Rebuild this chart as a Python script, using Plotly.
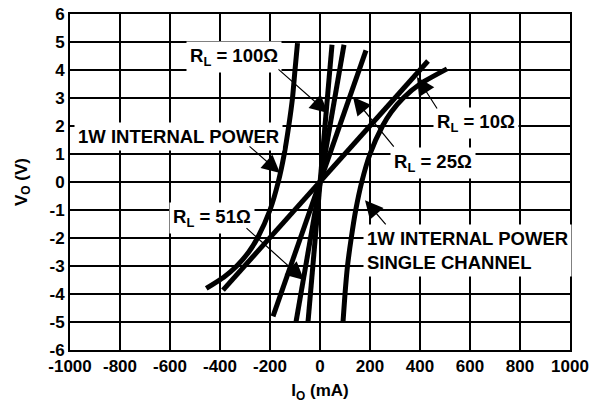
import plotly.graph_objects as go

# 1W internal power curves (Io in mA, Vo in V)
pw_left_io = [-90, -100, -110, -125, -143, -167, -200, -250, -285, -333, -385, -455]
pw_left_vo = [4.96, 4.0, 3.0, 2.0, 1.0, 0.0, -1.0, -2.0, -2.5, -3.0, -3.4, -3.8]
pw_right_io = [92, 100, 110, 125, 143, 167, 200, 250, 285, 333, 400, 508]
pw_right_vo = [-5.0, -4.0, -3.0, -2.0, -1.0, 0.0, 1.0, 2.0, 2.5, 3.0, 3.5, 4.04]

# Load lines
r10_io = [-388, 432]
r10_vo = [-3.86, 4.32]
r25_io = [-188, 184]
r25_vo = [-4.8, 4.7]
r51_io = [-96, 96]
r51_vo = [-5.0, 4.9]
r100_io = [-48, 48]
r100_vo = [-5.0, 4.9]

x_ticks = [-1000, -800, -600, -400, -200, 0, 200, 400, 600, 800, 1000]
y_ticks = [-6, -5, -4, -3, -2, -1, 0, 1, 2, 3, 4, 5, 6]

FONT = "Liberation Sans"
FS = 17
FS_ANN = 18.5
LW = 5

fig = go.Figure()
for xs, ys in [(pw_left_io, pw_left_vo), (pw_right_io, pw_right_vo),
               (r10_io, r10_vo), (r25_io, r25_vo), (r51_io, r51_vo), (r100_io, r100_vo)]:
    fig.add_trace(go.Scatter(x=xs, y=ys, mode="lines",
                             line=dict(color="black", width=LW, shape="spline", smoothing=0.6),
                             showlegend=False, hoverinfo="skip"))

labels = [
    ("R<sub>L</sub> = 100Ω", -344, 4.46, "center"),
    ("1W INTERNAL POWER", -568, 1.64, "center"),
    ("R<sub>L</sub> = 51Ω", -432, -1.29, "center"),
    ("R<sub>L</sub> = 25Ω", 452, 0.68, "center"),
    ("R<sub>L</sub> = 10Ω", 624, 2.1, "center"),
    ("1W INTERNAL POWER<br>SINGLE CHANNEL", 172, -2.46, "left"),
]
for txt, x, y, anc in labels:
    fig.add_annotation(x=x, y=y, xref="x", yref="y", text="<b>" + txt + "</b>",
                       showarrow=False, xanchor=anc, align="left",
                       bgcolor="white", borderpad=3,
                       font=dict(family=FONT, size=FS_ANN, color="black"))

# arrows: (tip x, tip y, tail x, tail y)
arrows = [
    (32, 2.46, -172, 4.07),
    (-160, 0.32, -288, 1.32),
    (-64, -3.5, -300, -1.6),
    (132, 3.04, 300, 1.21),
    (388, 3.75, 472, 2.57),
    (180, -0.65, 268, -1.57),
]
for tx, ty, sx, sy in arrows:
    fig.add_annotation(x=tx, y=ty, ax=sx, ay=sy, xref="x", yref="y", axref="x", ayref="y",
                       text="", showarrow=True, arrowhead=2, arrowsize=3,
                       arrowwidth=1.2, arrowcolor="black", standoff=0, startstandoff=0)

axis_common = dict(showgrid=True, gridcolor="black", gridwidth=2,
                   zeroline=True, zerolinecolor="black", zerolinewidth=2,
                   showline=True, linecolor="black", linewidth=2, mirror=True,
                   ticks="", ticklen=0, automargin=False, ticklabeloverflow="allow",
                   tickfont=dict(family=FONT, size=FS, color="black", weight="bold"),
                   title_font=dict(family=FONT, size=FS, color="black", weight="bold"))

fig.update_layout(
    width=605, height=406,
    margin=dict(l=70, r=35, t=14, b=56),
    paper_bgcolor="white", plot_bgcolor="white",
    xaxis=dict(range=[-1000, 1000], tickvals=x_ticks, ticktext=[str(v) for v in x_ticks],
               title=dict(text="I<sub>O</sub> (mA)", standoff=9), **axis_common),
    yaxis=dict(range=[-6, 6], tickvals=y_ticks, ticktext=[str(v) for v in y_ticks],
               title=dict(text="V<sub>O</sub> (V)", standoff=18), **axis_common),
)

# remove the default page margin so the figure fills the window exactly
fig.write_html("out.html", config={"displayModeBar": False},
               post_script="document.body.style.margin='0';")
